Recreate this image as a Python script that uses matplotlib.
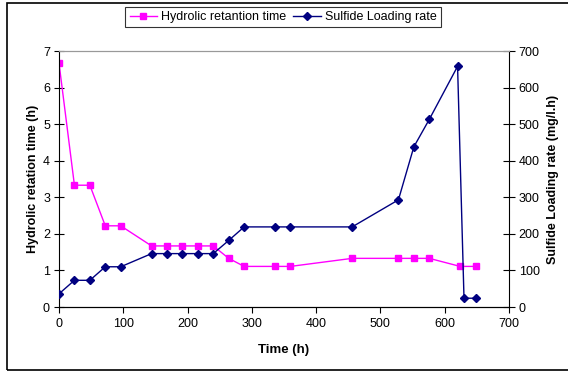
import numpy as np
import matplotlib
matplotlib.use('Agg')
import matplotlib.pyplot as plt
from matplotlib.patches import Rectangle

plt.rcParams['font.family'] = ['Liberation Sans', 'DejaVu Sans']

# data
hrt_time = [0, 24, 48, 72, 96, 144, 168, 192, 216, 240, 264, 288, 336, 360,
            456, 528, 552, 576, 624, 648]
hrt = [6.67, 3.33, 3.33, 2.22, 2.22, 1.67, 1.67, 1.67, 1.67, 1.67, 1.33, 1.11,
       1.11, 1.11, 1.33, 1.33, 1.33, 1.33, 1.11, 1.11]
slr_time = [0, 24, 48, 72, 96, 144, 168, 192, 216, 240, 264, 288, 336, 360,
            456, 528, 552, 576, 620, 630, 648]
slr = [36, 73, 73, 110, 110, 146, 146, 146, 146, 146, 182, 219, 219, 219,
       219, 293, 438, 513, 658, 24, 24]

fig = plt.figure(figsize=(5.68, 3.71), dpi=100)
ax = fig.add_axes([59/568, 1 - 307/371, 450/568, 256/371])
ax2 = ax.twinx()

l1, = ax.plot(hrt_time, hrt, color='#FF00FF', lw=1, marker='s', ms=5,
              label='Hydrolic retantion time')
l2, = ax2.plot(slr_time, slr, color='#000080', lw=1, marker='D', ms=4,
               label='Sulfide Loading rate')

ax.set_xlim(0, 700)
ax.set_ylim(0, 7)
ax2.set_ylim(0, 700)
ax.set_xticks(np.arange(0, 701, 100))
ax.set_yticks(np.arange(0, 8, 1))
ax2.set_yticks(np.arange(0, 701, 100))

for a in (ax, ax2):
    a.tick_params(labelsize=9, length=4, width=0.8, pad=4)
    a.spines['top'].set_color('#999999')
ax.tick_params(axis='y', direction='inout', length=7, pad=3)
ax2.tick_params(axis='y', direction='inout', length=8, pad=3)
ax2.spines['left'].set_visible(False)
ax.spines['right'].set_visible(False)

ax.set_xlabel('Time (h)', fontsize=9.5, fontweight='bold', labelpad=10)
ax.set_ylabel('Hydrolic retation time (h)', fontsize=9, fontweight='bold', labelpad=3)
ax2.set_ylabel('Sulfide Loading rate (mg/l.h)', fontsize=9, fontweight='bold', labelpad=5)

leg = fig.legend([l1, l2], [l1.get_label(), l2.get_label()], loc='center',
                 bbox_to_anchor=(283/568, 1 - 17/371), ncol=2, fontsize=9,
                 frameon=True, fancybox=False, edgecolor='black',
                 handlelength=2.2, columnspacing=0.6, handletextpad=0.3,
                 borderpad=0.35)
leg.get_frame().set_linewidth(0.8)

fig.patches.append(Rectangle((7/568, 1.5/371), 1.2, 1 - 4.5/371,
                             transform=fig.transFigure, fill=False,
                             edgecolor='black', lw=1.2))

fig.savefig('out.png', dpi=100)
